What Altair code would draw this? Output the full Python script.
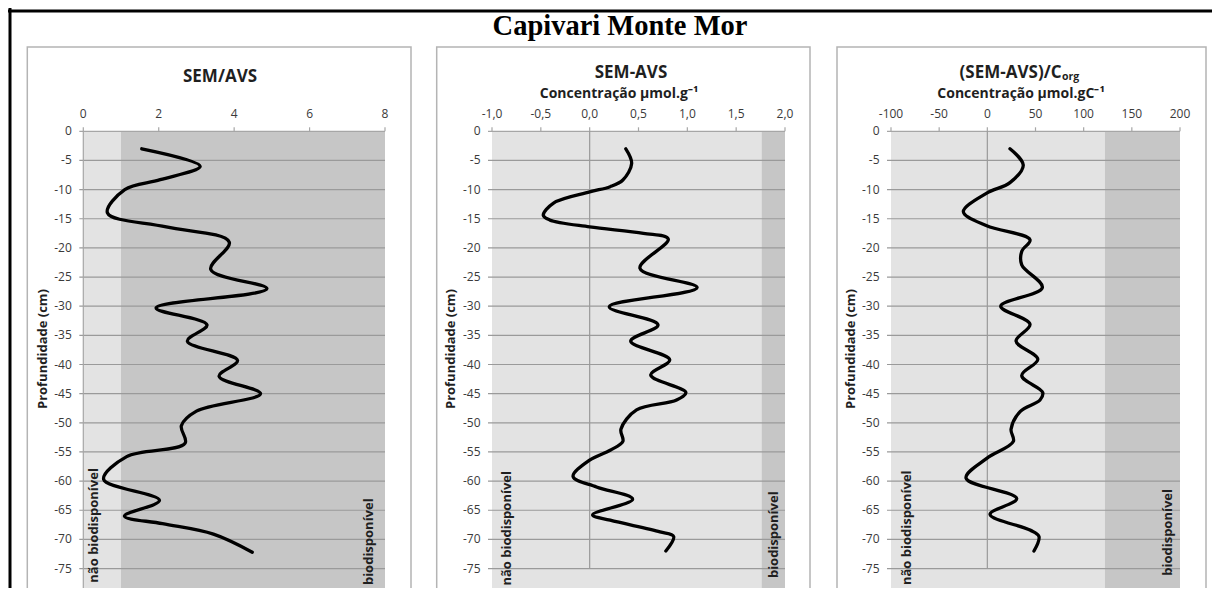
import altair as alt
import pandas as pd

FONT = "Open Sans"

# ---------------- data ----------------
depth_ticks = [0, -5, -10, -15, -20, -25, -30, -35, -40, -45, -50, -55, -60, -65, -70, -75]
depth_tick_labels = ["0", "-5", "-10", "-15", "-20", "-25", "-30", "-35", "-40", "-45", "-50",
                     "-55", "-60", "-65", "-70", "-75"]

# Panel 1: SEM/AVS
p1_depth = [-3, -6, -8.3, -10, -14, -16.4, -19, -23.7, -27, -30.3, -33.2, -36, -39.3, -42, -45,
            -48, -50.5, -53.5, -55.8, -59.7, -63.3, -66, -67.3, -69.1, -72.2]
p1_value = [1.55, 3.1, 2.04, 1.1, 0.64, 2.2, 3.87, 3.38, 4.87, 1.93, 3.28, 2.76, 4.09, 3.6, 4.7,
            3.0, 2.6, 2.7, 1.15, 0.54, 2.02, 1.09, 2.1, 3.45, 4.48]
p1_ticks = [0, 2, 4, 6, 8]
p1_tick_labels = ["0", "2", "4", "6", "8"]
p1_zone_from = [0, 1]
p1_zone_to = [1, 8]
p1_label_x = [0.28, 7.57]
p1_label_y = [-67.6, -70.4]

# Panel 2: SEM-AVS
p2_depth = [-3, -5.5, -8.35, -9.5, -10.4, -12.3, -14.4, -15.2, -16.4, -17.5, -18.5, -23.5, -26.8,
            -30.1, -33.2, -36.0, -39.2, -41.8, -44.8, -46.1, -47.8, -51.1, -53.2, -54.7, -56.4,
            -59.2, -61, -63.1, -65.8, -66.7, -68.7, -69.5, -72.0]
p2_value = [0.37, 0.43, 0.34, 0.21, 0.0, -0.37, -0.475, -0.41, 0.0, 0.55, 0.805, 0.515, 1.10,
            0.20, 0.70, 0.42, 0.82, 0.625, 0.985, 0.89, 0.48, 0.32, 0.34, 0.21, 0.0,
            -0.17, 0.07, 0.44, 0.03, 0.21, 0.72, 0.86, 0.78]
p2_ticks = [-1.0, -0.5, 0.0, 0.5, 1.0, 1.5, 2.0]
p2_tick_labels = ["-1,0", "-0,5", "0,0", "0,5", "1,0", "1,5", "2,0"]
p2_zone_from = [-1, 1.76]
p2_zone_to = [1.76, 2]
p2_label_x = [-0.846, 1.887]
p2_label_y = [-68.1, -69.2]

# Panel 3: (SEM-AVS)/Corg
p3_depth = [-3, -5.8, -8.8, -10.6, -13.8, -16.2, -18.6, -20.6, -22.9, -26.8, -30.0, -33.1, -36.0,
            -39.1, -41.9, -44.8, -46.1, -48.1, -51.1, -53.2, -56.1, -59.5, -63.0, -65.7, -68.4,
            -69.5, -72.0]
p3_value = [23.5, 37.3, 23.5, -0.6, -24.9, -0.6, 44.3, 35.7, 35.7, 57.1, 13.9, 44.3, 29.8,
            52.4, 35.7, 57.5, 54.7, 34.0, 24.6, 27.0, -0.6, -22.1, 30.5, 2.8, 44.3,
            53.6, 48.4]
p3_ticks = [-100, -50, 0, 50, 100, 150, 200]
p3_tick_labels = ["-100", "-50", "0", "50", "100", "150", "200"]
p3_zone_from = [-100, 122]
p3_zone_to = [122, 200]
p3_label_x = [-83.4, 187.6]
p3_label_y = [-68.0, -68.8]

zone_kind = ["nao", "bio"]
zone_text = ["não biodisponível", "biodisponível"]

# ---------------- layout ----------------
W, H = 1204, 580
Y0 = 123.3
PX_CM = 5.83
yscale = alt.Scale(domain=[-80, 0], range=[Y0 + 80 * PX_CM, Y0], zero=False, nice=False)

GRID_COLOR = "#9a9a9a"
AXIS_COLOR = "#a6a6a6"
TEXT_COLOR = "#1f1f1f"
LABEL_COLOR = "#3a3a3a"


def Xf(field, xs):
    return alt.X(field, scale=xs, axis=None)


def Yf(field):
    return alt.Y(field, scale=yscale, axis=None)


def panel(depths, values, ticks, tick_labels, zfrom, zto, lab_x, lab_y, xrange, left_axis_line,
          zero_line):
    xdom = [ticks[0], ticks[-1]]
    xs = alt.Scale(domain=xdom, range=xrange, zero=False, nice=False)

    zones = pd.DataFrame({"x0": zfrom, "x1": zto, "y0": [0, 0], "y1": [-80, -80], "kind": zone_kind})
    rect = alt.Chart(zones).mark_rect(strokeWidth=0).encode(
        x=Xf("x0:Q", xs), x2="x1:Q", y=Yf("y0:Q"), y2="y1:Q",
        color=alt.Color("kind:N", scale=alt.Scale(domain=zone_kind, range=["#e3e3e3", "#c6c6c6"]),
                        legend=None),
    )
    layers = [rect]

    # horizontal grid lines (+ left tick marks, 4px outside the plot)
    grid_df = pd.DataFrame({"depth": depth_ticks[1:], "x0": xdom[0], "x1": xdom[1]})
    grid = alt.Chart(grid_df).mark_rule(color=GRID_COLOR, strokeWidth=1.2, xOffset=-4).encode(
        x=Xf("x0:Q", xs), x2="x1:Q", y=Yf("depth:Q"))
    layers.append(grid)

    # top axis line with tick marks
    top_df = pd.DataFrame({"depth": [0], "x0": [xdom[0]], "x1": [xdom[1]]})
    top = alt.Chart(top_df).mark_rule(color=AXIS_COLOR, strokeWidth=1.2, xOffset=-4).encode(
        x=Xf("x0:Q", xs), x2="x1:Q", y=Yf("depth:Q"))
    layers.append(top)
    xt_df = pd.DataFrame({"v": ticks, "d": 0, "lab": tick_labels})
    xticks = alt.Chart(xt_df).mark_rule(color=AXIS_COLOR, strokeWidth=1.2, y2Offset=-4).encode(
        x=Xf("v:Q", xs), y=Yf("d:Q"), y2="d:Q")
    layers.append(xticks)
    xlabels = alt.Chart(xt_df).mark_text(font=FONT, fontSize=12, color=LABEL_COLOR,
                                         align="center", baseline="alphabetic", dy=-13).encode(
        x=Xf("v:Q", xs), y=Yf("d:Q"), text="lab:N")
    layers.append(xlabels)

    # left labels
    yl_df = pd.DataFrame({"d": depth_ticks, "x": xdom[0], "lab": depth_tick_labels})
    ylabels = alt.Chart(yl_df).mark_text(font=FONT, fontSize=12, color=LABEL_COLOR,
                                         align="right", baseline="middle", dx=-11.5).encode(
        x=Xf("x:Q", xs), y=Yf("d:Q"), text="lab:N")
    layers.append(ylabels)

    if left_axis_line:
        la = alt.Chart(pd.DataFrame({"x": [xdom[0]], "y0": [0], "y1": [-80]})).mark_rule(
            color=AXIS_COLOR, strokeWidth=1.2).encode(x=Xf("x:Q", xs), y=Yf("y0:Q"), y2="y1:Q")
        layers.append(la)
    if zero_line:
        zl = alt.Chart(pd.DataFrame({"x": [0], "y0": [0], "y1": [-75]})).mark_rule(
            color=GRID_COLOR, strokeWidth=1.2).encode(x=Xf("x:Q", xs), y=Yf("y0:Q"), y2="y1:Q")
        layers.append(zl)

    line_df = pd.DataFrame({"depth": depths, "v": values, "i": list(range(len(depths)))})
    line = alt.Chart(line_df).mark_line(interpolate="catmull-rom", color="black", strokeWidth=3.3,
                                        strokeCap="round", strokeJoin="round").encode(
        x=Xf("v:Q", xs), y=Yf("depth:Q"), order="i:Q")
    layers.append(line)

    labels = alt.Chart(pd.DataFrame({"x": lab_x, "y": lab_y, "t": zone_text})).mark_text(
        angle=270, font=FONT, fontSize=13, fontWeight="bold", color=TEXT_COLOR,
        align="center", baseline="middle").encode(
        x=Xf("x:Q", xs), y=Yf("y:Q"), text="t:N")
    layers.append(labels)
    return alt.layer(*layers)


p1 = panel(p1_depth, p1_value, p1_ticks, p1_tick_labels, p1_zone_from, p1_zone_to,
           p1_label_x, p1_label_y, [75.3, 377.0], True, False)
p2 = panel(p2_depth, p2_value, p2_ticks, p2_tick_labels, p2_zone_from, p2_zone_to,
           p2_label_x, p2_label_y, [484.0, 777.0], False, True)
p3 = panel(p3_depth, p3_value, p3_ticks, p3_tick_labels, p3_zone_from, p3_zone_to,
           p3_label_x, p3_label_y, [883.0, 1172.0], False, True)

one = alt.Data(values=[{}])


def box(x0, x1, y0, y1):
    return alt.Chart(one).mark_rect(fill="white", stroke="#b4b4b4", strokeWidth=1.5).encode(
        x=alt.value(x0), x2=alt.value(x1), y=alt.value(y0), y2=alt.value(y1))


def txt(s, x, y, size, align="center", baseline="alphabetic", angle=0, font=FONT, color=TEXT_COLOR):
    kw = dict(font=font, fontSize=size, fontWeight="bold", color=color, align=align, baseline=baseline)
    if angle:
        kw["angle"] = angle
    return alt.Chart(one).mark_text(**kw).encode(
        x=alt.value(x), y=alt.value(y), text=alt.value(s))


frame_top = alt.Chart(one).mark_rule(color="black", strokeWidth=3).encode(
    x=alt.value(0), x2=alt.value(W), y=alt.value(3))
frame_left = alt.Chart(one).mark_rule(color="black", strokeWidth=3).encode(
    x=alt.value(2), y=alt.value(0), y2=alt.value(H))

deco = [
    box(19.3, 403, 39, 640), box(428.7, 802, 39, 640), box(829, 1198, 39, 640),
    frame_top, frame_left,
    txt("Capivari Monte Mor", 612, 26.5, 28.5, font="Liberation Serif", color="black"),
    txt("SEM/AVS", 212, 74.3, 17),
    txt("SEM-AVS", 623, 70.3, 17),
    txt("Concentração µmol.g⁻¹", 611, 89.5, 14),
    txt("(SEM-AVS)/C", 1053.5, 70.3, 17, align="right"),
    txt("org", 1054, 72.3, 10.5, align="left"),
    txt("Concentração µmol.gC⁻¹", 1013, 89.5, 14),
    txt("Profundidade (cm)", 35, 341, 13, baseline="middle", angle=270),
    txt("Profundidade (cm)", 443, 341, 13, baseline="middle", angle=270),
    txt("Profundidade (cm)", 843, 341, 13, baseline="middle", angle=270),
]

chart = alt.layer(*deco, p1, p2, p3).resolve_scale(
    x="independent", y="independent", color="shared"
).properties(
    width=W, height=H, padding=0, autosize=alt.AutoSizeParams(type="none")
).configure_view(stroke=None)

chart.save("out.html", embed_options={"renderer": "svg", "actions": False})
